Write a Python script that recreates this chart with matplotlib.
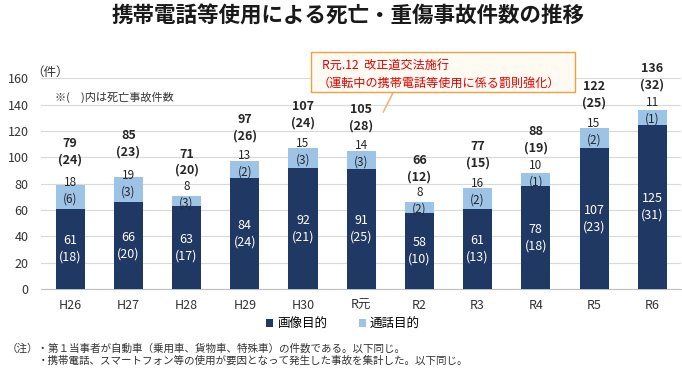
import matplotlib
matplotlib.use("Agg")
import matplotlib.pyplot as plt
from matplotlib.patches import Rectangle
import numpy as np

plt.rcParams['font.family'] = ['Noto Sans CJK JP', 'DejaVu Sans']

categories = ['H26', 'H27', 'H28', 'H29', 'H30', 'R元', 'R2', 'R3', 'R4', 'R5', 'R6']
image_vals = [61, 66, 63, 84, 92, 91, 58, 61, 78, 107, 125]
image_fatal = [18, 20, 17, 24, 21, 25, 10, 13, 18, 23, 31]
call_vals = [18, 19, 8, 13, 15, 14, 8, 16, 10, 15, 11]
call_fatal = [6, 3, 3, 2, 3, 3, 2, 2, 1, 2, 1]
total_vals = [79, 85, 71, 97, 107, 105, 66, 77, 88, 122, 136]
total_fatal = [24, 23, 20, 26, 24, 28, 12, 15, 19, 25, 32]

dark = '#203864'
light = '#9dc3e6'
txt = '#262626'

fig = plt.figure(figsize=(6.82, 3.69), dpi=100)
ax = fig.add_axes([0.0601, 0.2168, 0.939, 0.5705])

x = np.arange(len(categories))
w = 0.5
ax.bar(x, image_vals, w, color=dark, label='画像目的', zorder=3)
ax.bar(x, call_vals, w, bottom=image_vals, color=light, label='通話目的', zorder=3)

for i in range(len(categories)):
    ax.text(x[i], image_vals[i] / 2, f'{image_vals[i]}\n({image_fatal[i]})', ha='center', va='center',
            color='white', fontsize=9, linespacing=1.35, zorder=4)
    ax.annotate(f'{call_vals[i]}\n({call_fatal[i]})', (x[i], image_vals[i] + call_vals[i] / 2),
                xytext=(0, 4.5), textcoords='offset points', ha='center', va='center',
                color=txt, fontsize=8.5, linespacing=1.35, zorder=4)
    ax.annotate(f'{total_vals[i]}\n({total_fatal[i]})', (x[i], total_vals[i]), xytext=(0, 24),
                textcoords='offset points', ha='center', va='center', fontsize=9, fontweight='bold',
                linespacing=1.35, color=txt, zorder=4)

ax.set_xlim(-0.5, len(categories) - 0.5)
ax.set_ylim(0, 160)
ax.set_yticks(range(0, 161, 20))
ax.set_xticks(x)
ax.set_xticklabels(categories)
ax.tick_params(axis='both', length=0, labelsize=9, colors='#333333')
ax.tick_params(axis='x', pad=7)
ax.tick_params(axis='y', pad=9)
ax.grid(axis='y', color='#d9d9d9', linewidth=0.8, zorder=0)
for s in ['left', 'right', 'top']:
    ax.spines[s].set_visible(False)
ax.spines['bottom'].set_color('#bfbfbf')

fig.text(0.511, 0.957, '携帯電話等使用による死亡・重傷事故件数の推移', ha='center', va='center',
         fontsize=15.5, fontweight='bold', color='#1a1a1a')
fig.text(0.046, 0.805, '（件）', ha='left', va='center', fontsize=9, color='#333333')
fig.text(0.081, 0.737, '※(　)内は死亡事故件数', ha='left', va='center', fontsize=8, color='#333333')

# annotation box with pointer
ax.annotate('', xy=(5.38, 134.5), xytext=(5.55, 149.5),
            arrowprops=dict(arrowstyle='-', color='#f4b183', lw=1.2, shrinkA=0, shrinkB=0), zorder=5)
fig.patches.append(Rectangle((311 / 682, 1 - 92 / 369), 264 / 682, 40 / 369, transform=fig.transFigure,
                             facecolor='#fffaf2', edgecolor='#f0a040', lw=1, zorder=5))
fig.text(322 / 682, 1 - 65 / 369, 'R元.12  改正道交法施行', ha='left', va='center',
         fontsize=8.7, color='#e00000', zorder=6)
fig.text(318 / 682, 1 - 83 / 369, '（運転中の携帯電話等使用に係る罰則強化）', ha='left', va='center',
         fontsize=8.7, color='#e00000', zorder=6)

fig.legend(loc='center', bbox_to_anchor=(0.503, 0.122), ncol=2, frameon=False, fontsize=9,
           handlelength=0.55, handleheight=0.55, columnspacing=2.6, handletextpad=0.3)

fig.text(0.010, 1 - 349 / 369, '（注）・第１当事者が自動車（乗用車、貨物車、特殊車）の件数である。以下同じ。', ha='left',
         va='center', fontsize=7.6, color='#333333')
fig.text(0.0557, 1 - 361 / 369, '・携帯電話、スマートフォン等の使用が要因となって発生した事故を集計した。以下同じ。', ha='left',
         va='center', fontsize=7.6, color='#333333')

fig.savefig('out.png', dpi=100)
